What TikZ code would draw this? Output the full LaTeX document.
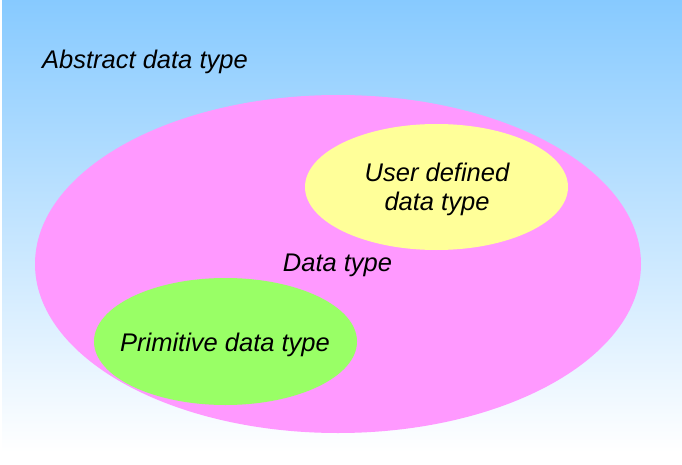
\documentclass[tikz,border=0pt]{standalone}
\usepackage{fontspec}
\setmainfont{Liberation Sans}
\usetikzlibrary{shapes.geometric,positioning}
\definecolor{skytop}{RGB}{135,202,255}
\definecolor{pinkset}{RGB}{255,153,255}
\definecolor{yellowset}{RGB}{255,255,153}
\definecolor{greenset}{RGB}{153,255,102}
\tikzset{
    set/.style={ellipse, inner sep=0pt, draw=none},
    lbl/.style={font=\fontsize{25.5}{28.5}\selectfont\itshape, align=center, inner sep=0pt, anchor=base}
}

\begin{document}
\begin{tikzpicture}[x=1pt, y=-1pt]
    \useasboundingbox (0,0) rectangle (682,465);
    % background
    \shade[top color=skytop, bottom color=white] (2,0) rectangle (682,452);
    \node[lbl, anchor=base west] (adt) at (42,69) {Abstract data type};
    % sets
    \node[set, fill=pinkset, minimum width=606pt, minimum height=338pt] (dt) at (338,264) {};
    \node[set, fill=yellowset, minimum width=263pt, minimum height=126pt] (udt) at (436.5,187) {};
    \node[set, fill=greenset, minimum width=263pt, minimum height=127pt] (pdt) at (225.5,341.5) {};
    % labels
    \node[lbl] (dtl) at (337.5,271.5) {Data type};
    \node[lbl] (udtl) at (437,210) {User defined\\data type};
    \node[lbl] (pdtl) at (225,351.5) {Primitive data type};
\end{tikzpicture}
\end{document}
